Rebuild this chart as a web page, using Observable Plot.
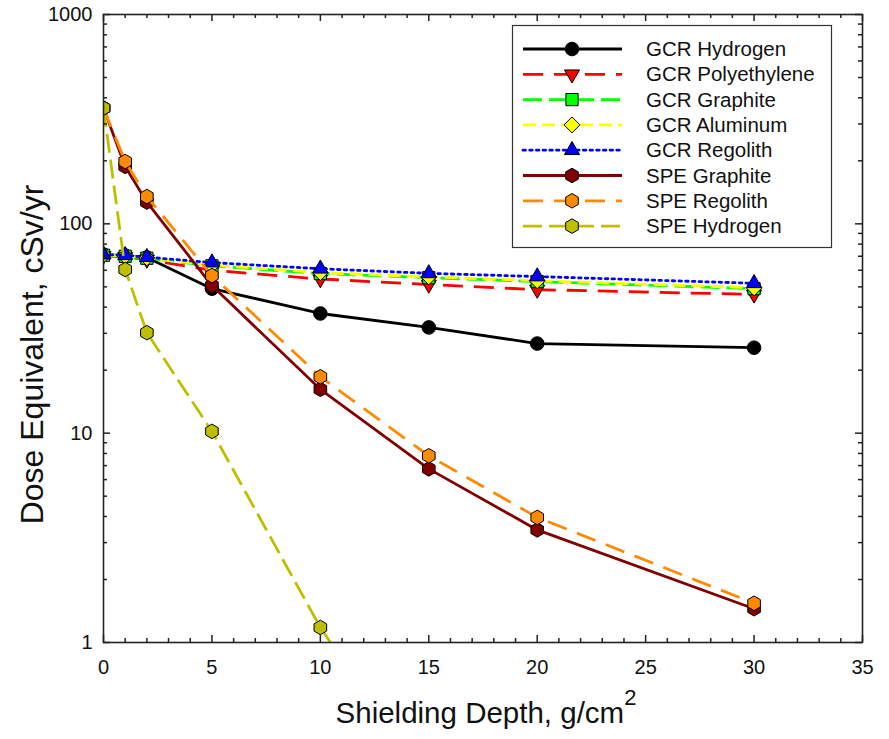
<!DOCTYPE html>
<html>
<head>
<meta charset="utf-8">
<script src="https://cdn.jsdelivr.net/npm/d3@7"></script>
<script src="https://cdn.jsdelivr.net/npm/@observablehq/plot@0.6"></script>
<style>
  html, body { margin: 0; padding: 0; background: #fff; }
  #chart { width: 889px; height: 739px; }
</style>
</head>
<body>
<div id="chart"></div>
<script>
// ---- data ----
const xs = [0, 1, 2, 5, 10, 15, 20, 30];
const gcrHydrogen     = [71.3, 70.5, 69.0, 49.0, 37.3, 32.0, 26.8, 25.6];
const gcrPolyethylene = [70.5, 69.5, 67.5, 60.0, 54.5, 51.3, 48.5, 46.0];
const gcrGraphite     = [70.8, 70.0, 68.5, 63.0, 57.9, 55.3, 53.0, 49.0];
const gcrAluminum     = [71.0, 70.2, 68.8, 63.5, 58.5, 55.8, 53.5, 49.5];
const gcrRegolith     = [71.3, 70.8, 69.3, 65.3, 61.0, 58.0, 56.0, 52.0];
const speGraphite     = [357, 188, 127, 50.7, 16.2, 6.75, 3.45, 1.45];
const speRegolith     = [357, 198.5, 135, 56.6, 18.6, 7.8, 3.96, 1.54];
const speHydrogen     = [357, 60.5, 30.2, 10.2, 1.18, 0.2];

const seriesNames = ["GCR Hydrogen", "GCR Polyethylene", "GCR Graphite", "GCR Aluminum",
                     "GCR Regolith", "SPE Graphite", "SPE Regolith", "SPE Hydrogen"];
const seriesValues = [gcrHydrogen, gcrPolyethylene, gcrGraphite, gcrAluminum,
                      gcrRegolith, speGraphite, speRegolith, speHydrogen];

const xTicks = [0, 5, 10, 15, 20, 25, 30, 35];
const xMinorTicks = d3.range(0, 36, 1).filter(d => d % 5 !== 0);
const yTicks = [1, 10, 100, 1000];
const yMinorTicks = [1, 10, 100].flatMap(p => d3.range(2, 10).map(k => k * p));

const xTitle = "Shielding Depth, g/cm";
const xTitleSup = "2";
const yTitle = "Dose Equivalent, cSv/yr";

// ---- styles ----
const styles = [
  {stroke: "#000000", fill: "#000000", dash: null,     symbol: "circle",   r: 6.8, rotate: 0},
  {stroke: "#ff0000", fill: "#ff0000", dash: "20,11",  symbol: "triangle", r: 5.6, rotate: 180},
  {stroke: "#00ff00", fill: "#00ff00", dash: "19,7",   symbol: "square",   r: 6.9, rotate: 0},
  {stroke: "#ffff00", fill: "#ffff00", dash: "13,6",   symbol: "diamond2", r: 7.2, rotate: 0},
  {stroke: "#0000ff", fill: "#0000ff", dash: "2.5,4.2",symbol: "triangle", r: 5.6, rotate: 0},
  {stroke: "#800000", fill: "#800000", dash: null,     symbol: "hexagon",  r: 6.3, rotate: 0},
  {stroke: "#ff8a00", fill: "#ff8a00", dash: "20,11",  symbol: "hexagon",  r: 6.3, rotate: 0},
  {stroke: "#bfbf00", fill: "#bfbf00", dash: "19,7",   symbol: "hexagon",  r: 6.3, rotate: 0}
];

const W = 889, H = 739;
const mL = 103, mR = 27, mT = 14, mB = 97;
const FW = W - mL - mR, FH = H - mT - mB;
const font = "'Liberation Sans', Arial, Helvetica, sans-serif";

const marks = [];
seriesNames.forEach((name, i) => {
  const rows = seriesValues[i].map((v, j) => ({x: xs[j], y: v}));
  const s = styles[i];
  marks.push(Plot.line(rows, {
    x: "x", y: "y", stroke: s.stroke, strokeWidth: 2.8,
    strokeDasharray: s.dash, strokeLinecap: s.dash === "2.5,4.2" ? "round" : "butt",
    clip: true
  }));
  marks.push(Plot.dot(rows, {
    x: "x", y: "y", symbol: () => s.symbol, r: s.r, fill: s.fill,
    stroke: "#000", strokeWidth: 1, rotate: s.rotate, clip: true
  }));
});

const tickStyle = {stroke: "#222", strokeWidth: 1.5};
marks.push(
  Plot.tickX(xTicks, {x: d => d, insetTop: FH - 7, ...tickStyle}),
  Plot.tickX(xMinorTicks, {x: d => d, insetTop: FH - 4, ...tickStyle}),
  Plot.tickX(xTicks, {x: d => d, insetBottom: FH - 7, ...tickStyle}),
  Plot.tickX(xMinorTicks, {x: d => d, insetBottom: FH - 4, ...tickStyle}),
  Plot.tickY(yTicks, {y: d => d, insetRight: FW - 7, ...tickStyle}),
  Plot.tickY(yMinorTicks, {y: d => d, insetRight: FW - 4, ...tickStyle}),
  Plot.tickY(yTicks, {y: d => d, insetLeft: FW - 7, ...tickStyle}),
  Plot.tickY(yMinorTicks, {y: d => d, insetLeft: FW - 4, ...tickStyle}),
  Plot.axisX({ticks: xTicks, tickSize: 0, tickPadding: 17, label: null, fontSize: 20, fill: "#111"}),
  Plot.axisY({ticks: yTicks, tickFormat: d => String(d), tickSize: 0, tickPadding: 11, label: null, fontSize: 20, fill: "#111"}),
  Plot.frame({stroke: "#222", strokeWidth: 1.6})
);

const svg = Plot.plot({
  width: W, height: H,
  marginLeft: mL, marginRight: mR, marginTop: mT, marginBottom: mB,
  style: {fontFamily: font, fontSize: "20px", background: "#fff", color: "#111"},
  x: {domain: [0, 35]},
  y: {type: "log", domain: [1, 1000]},
  marks
});

const root = d3.select(svg);

// axis titles
const xt = root.append("text")
  .attr("x", 486).attr("y", 723)
  .attr("text-anchor", "middle")
  .attr("font-family", font).attr("font-size", 29.5).attr("fill", "#111");
xt.append("tspan").text(xTitle);
xt.append("tspan").attr("dy", -18).attr("font-size", 22).text(xTitleSup);

root.append("text")
  .attr("transform", "translate(43,354.5) rotate(-90)")
  .attr("text-anchor", "middle")
  .attr("font-family", font).attr("font-size", 32).attr("fill", "#111")
  .text(yTitle);

// legend
const hexagon = {
  draw(context, size) {
    const rx = Math.sqrt(size / Math.PI), ry = rx * Math.sqrt(4 / 3), hy = ry / 2;
    context.moveTo(0, ry); context.lineTo(rx, hy); context.lineTo(rx, -hy);
    context.lineTo(0, -ry); context.lineTo(-rx, -hy); context.lineTo(-rx, hy);
    context.closePath();
  }
};
const symbolMap = {circle: d3.symbolCircle, triangle: d3.symbolTriangle, square: d3.symbolSquare,
                   diamond2: d3.symbolDiamond2, hexagon};
const lg = root.append("g");
lg.append("rect").attr("x", 512.5).attr("y", 25.5).attr("width", 319).attr("height", 222)
  .attr("fill", "#fff").attr("stroke", "#333").attr("stroke-width", 1.2);
seriesNames.forEach((name, i) => {
  const s = styles[i];
  const cy = 49 + i * 25.3;
  lg.append("line").attr("x1", 523).attr("x2", 622).attr("y1", cy).attr("y2", cy)
    .attr("stroke", s.stroke).attr("stroke-width", 2.8)
    .attr("stroke-dasharray", s.dash)
    .attr("stroke-linecap", s.dash === "2.5,4.2" ? "round" : "butt");
  lg.append("path")
    .attr("d", d3.symbol(symbolMap[s.symbol], Math.PI * s.r * s.r)())
    .attr("transform", `translate(572,${cy}) rotate(${s.rotate})`)
    .attr("fill", s.fill).attr("stroke", "#000").attr("stroke-width", 1);
  lg.append("text").attr("x", 646).attr("y", cy + 7)
    .attr("text-anchor", "start")
    .attr("font-family", font).attr("font-size", 20.5).attr("fill", "#111")
    .text(name);
});

document.getElementById("chart").appendChild(svg);
</script>
</body>
</html>
